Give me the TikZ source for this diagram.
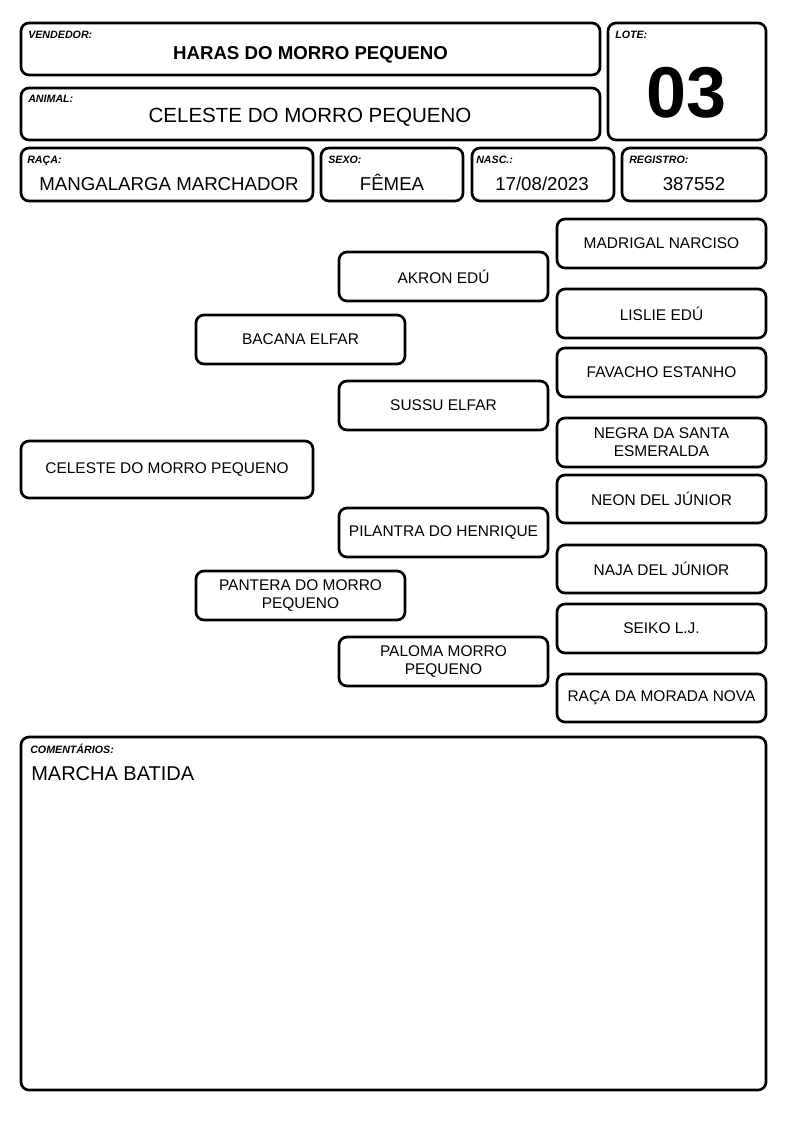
\documentclass[tikz,border=0pt]{standalone}
\usepackage{fontspec}
\setmainfont{Liberation Sans}
\begin{document}
\begin{tikzpicture}[x=0.75pt,y=-0.75pt,
  frame/.style={draw=black, line width=2pt, rounded corners=6pt, fill=white, inner sep=0pt},
  ped/.style={frame, align=center, font=\fontsize{11.6}{13.5}\selectfont},
  lbl/.style={anchor=base west, inner sep=0pt, font=\fontsize{8}{9}\selectfont\bfseries\itshape},
  val/.style={anchor=base, inner sep=0pt, font=\fontsize{14}{16}\selectfont}]
\useasboundingbox[fill=white] (0,0) rectangle (794,1123);
\newcommand\pbox[7][frame]{\node[#1, minimum width={(#5-#3)*0.75pt}, minimum height={(#6-#4)*0.75pt}] (#2) at ({(#3+#5)/2},{(#4+#6)/2}) {#7};}
% header
\pbox{vend}{21}{23}{600}{75}{}
\pbox{anim}{21}{88}{600}{140}{}
\pbox{lote}{608}{23}{766}{140}{}
\pbox{raca}{21}{148}{313}{201}{}
\pbox{sexo}{321}{148}{463}{201}{}
\pbox{nasc}{472}{148}{614}{201}{}
\pbox{reg}{622}{148}{766}{201}{}
\node[lbl] (lv) at (28,39) {VENDEDOR:};
\node[lbl] (la) at (28,103) {ANIMAL:};
\node[lbl] (ll) at (615,39) {LOTE:};
\node[lbl] (lr) at (27,164) {RAÇA:};
\node[lbl] (ls) at (328,164) {SEXO:};
\node[lbl] (ln) at (476,164) {NASC.:};
\node[lbl] (lg) at (629,164) {REGISTRO:};
\node[val, font=\fontsize{14}{16}\selectfont\bfseries] (tv) at (310.5,60) {HARAS DO MORRO PEQUENO};
\node[val, font=\fontsize{15.4}{18}\selectfont] (ta) at (310,123) {CELESTE DO MORRO PEQUENO};
\node[val, font=\fontsize{54}{60}\selectfont\bfseries] (tl) at (687,118) {03};
\node[val] (tr) at (169,191) {MANGALARGA MARCHADOR};
\node[val] (ts) at (392,191) {FÊMEA};
\node[val] (tn) at (542,191) {17/08/2023};
\node[val] (tg) at (694,191) {387552};
% pedigree
\pbox[ped]{g1}{21}{441}{313}{498}{CELESTE DO MORRO PEQUENO}
\pbox[ped]{g2a}{196}{315}{405}{364}{BACANA ELFAR}
\pbox[ped]{g2b}{196}{571}{405}{620}{PANTERA DO MORRO\\PEQUENO}
\pbox[ped]{g3a}{339}{252}{548}{301}{AKRON EDÚ}
\pbox[ped]{g3b}{339}{381}{548}{430}{SUSSU ELFAR}
\pbox[ped]{g3c}{339}{508}{548}{557}{PILANTRA DO HENRIQUE}
\pbox[ped]{g3d}{339}{637}{548}{686}{PALOMA MORRO\\PEQUENO}
\pbox[ped]{g4a}{557}{219}{766}{268}{MADRIGAL NARCISO}
\pbox[ped]{g4b}{557}{289}{766}{338}{LISLIE EDÚ}
\pbox[ped]{g4c}{557}{348}{766}{397}{FAVACHO ESTANHO}
\pbox[ped]{g4d}{557}{418}{766}{467}{NEGRA DA SANTA\\ESMERALDA}
\pbox[ped]{g4e}{557}{475}{766}{523}{NEON DEL JÚNIOR}
\pbox[ped]{g4f}{557}{545}{766}{593}{NAJA DEL JÚNIOR}
\pbox[ped]{g4g}{557}{604}{766}{653}{SEIKO L.J.}
\pbox[ped]{g4h}{557}{674}{766}{722}{RAÇA DA MORADA NOVA}
% comments
\pbox{com}{21}{737}{766}{1090}{}
\node[lbl] (lc) at (30,753) {COMENTÁRIOS:};
\node[anchor=base west, inner sep=0pt, font=\fontsize{15}{18}\selectfont] (tc) at (31,780) {MARCHA BATIDA};
\end{tikzpicture}
\end{document}
